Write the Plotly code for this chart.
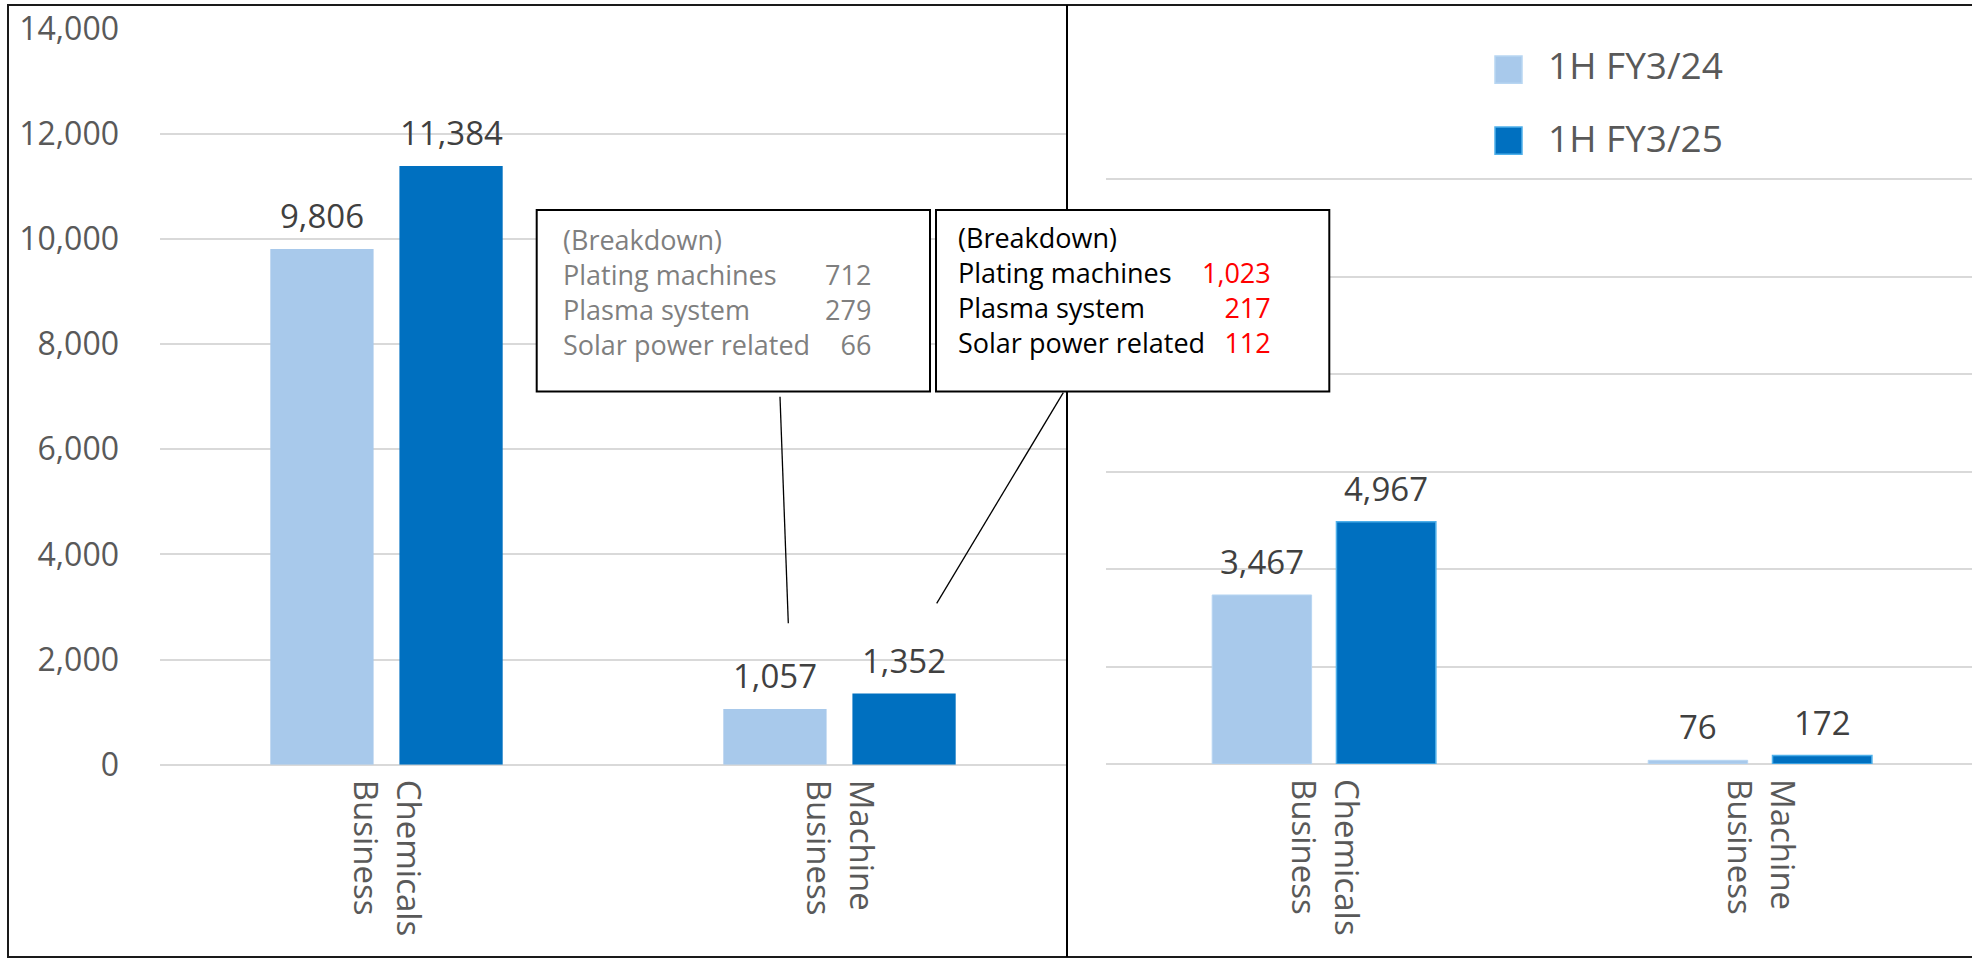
import plotly.graph_objects as go

# ---- data ----
categories = ["Chemicals<br>Business", "Machine<br>Business"]
series_names = ["1H FY3/24", "1H FY3/25"]

# net sales by segment (left panel)
sales_fy24 = [9806, 1057]
sales_fy25 = [11384, 1352]

# operating income by segment (right panel)
income_fy24 = [3467, 76]
income_fy25 = [4967, 172]

# machine business breakdown
breakdown_items = ["Plating machines", "Plasma system", "Solar power related"]
breakdown_fy24 = [712, 279, 66]
breakdown_fy25 = [1023, 217, 112]

y_ticks = list(range(0, 14001, 2000))

# ---- styling ----
W, H = 1972, 958
LIGHT = "#a8c9eb"
DARK = "#0070c0"
GRID = "#d9d9d9"
FONT = "Open Sans, Noto Sans, sans-serif"
BARGAP = 0.43
BARGROUPGAP = 0.2


def px(x):
    return x / W


def py(y):
    return 1 - y / H


fig = go.Figure()

bar_common = dict(showlegend=False, hoverinfo="skip", cliponaxis=False)

fig.add_trace(go.Bar(x=categories, y=sales_fy24, name=series_names[0],
                     marker=dict(color=LIGHT, line=dict(width=0)),
                     xaxis="x", yaxis="y", **bar_common))
fig.add_trace(go.Bar(x=categories, y=sales_fy25, name=series_names[1],
                     marker=dict(color=DARK, line=dict(width=0)),
                     xaxis="x", yaxis="y", **bar_common))
fig.add_trace(go.Bar(x=categories, y=income_fy24, name=series_names[0],
                     marker=dict(color=LIGHT, line=dict(width=1, color="#b8d6f2")),
                     xaxis="x2", yaxis="y2", **bar_common))
fig.add_trace(go.Bar(x=categories, y=income_fy25, name=series_names[1],
                     marker=dict(color=DARK, line=dict(width=1.5, color="#4fb0ea")),
                     xaxis="x2", yaxis="y2", **bar_common))

xaxis_common = dict(
    type="category",
    tickangle=90,
    tickfont=dict(size=33, color="#595959", family=FONT),
    ticklabelstandoff=14,
    showgrid=False,
    showline=False,
    ticks="",
    automargin=False,
    fixedrange=True,
)
yaxis_common = dict(
    range=[0, 14000],
    tickvals=y_ticks,
    tickformat=",",
    showgrid=True,
    gridcolor=GRID,
    gridwidth=1.5,
    zeroline=True,
    zerolinecolor=GRID,
    zerolinewidth=1.5,
    showline=False,
    ticks="",
    automargin=False,
    fixedrange=True,
)

fig.update_layout(
    width=W,
    height=H,
    margin=dict(l=0, r=0, t=0, b=0, pad=0, autoexpand=False),
    paper_bgcolor="white",
    plot_bgcolor="white",
    barmode="group",
    bargap=BARGAP,
    bargroupgap=BARGROUPGAP,
    font=dict(family=FONT, color="#595959"),
    xaxis=dict(domain=[px(160), px(1066)], anchor="y", range=[-0.5, 1.5], **xaxis_common),
    yaxis=dict(domain=[py(764.7), py(28.3)], anchor="x",
               tickfont=dict(size=32, color="#595959", family=FONT),
               ticklabelstandoff=40, **yaxis_common),
    xaxis2=dict(domain=[px(1106), 1.0], anchor="y2", range=[-0.5, 1.486], **xaxis_common),
    yaxis2=dict(domain=[py(764), py(81.5)], anchor="x2", showticklabels=False, **yaxis_common),
)

shapes = []
# outer frame and panel divider
shapes.append(dict(type="rect", xref="paper", yref="paper",
                   x0=px(8), x1=px(2000), y0=py(957), y1=py(5),
                   line=dict(color="#1a1a1a", width=2), fillcolor="rgba(0,0,0,0)"))
shapes.append(dict(type="line", xref="paper", yref="paper",
                   x0=px(1067), x1=px(1067), y0=py(957), y1=py(5),
                   line=dict(color="#000000", width=2)))

# breakdown boxes
boxes = [(536.7, 930.0), (936.0, 1329.3)]
for x0, x1 in boxes:
    shapes.append(dict(type="rect", xref="paper", yref="paper",
                       x0=px(x0), x1=px(x1), y0=py(391.5), y1=py(210),
                       line=dict(color="#000000", width=2), fillcolor="white"))

# callout leaders
shapes.append(dict(type="line", xref="paper", yref="paper",
                   x0=px(780), y0=py(396.7), x1=px(788.3), y1=py(623.3),
                   line=dict(color="#000000", width=1.3)))
shapes.append(dict(type="line", xref="paper", yref="paper",
                   x0=px(1063.3), y0=py(392.7), x1=px(936.7), y1=py(603.3),
                   line=dict(color="#000000", width=1.3)))

# legend panel
shapes.append(dict(type="rect", xref="paper", yref="paper",
                   x0=px(1527), x1=px(1914), y0=py(170), y1=py(40),
                   line=dict(width=0), fillcolor="white"))
legend_rows = [(56, 83.3, LIGHT, "#b8d6f2"), (127, 154.3, DARK, "#4fb0ea")]
for y0, y1, fill, edge in legend_rows:
    shapes.append(dict(type="rect", xref="paper", yref="paper",
                       x0=px(1495), x1=px(1522), y0=py(y1), y1=py(y0),
                       line=dict(color=edge, width=1.5), fillcolor=fill))

annotations = []
for name, (y0, y1, _, _), dy in zip(series_names, legend_rows, [5, 3]):
    annotations.append(dict(xref="paper", yref="paper", x=px(1546), y=py((y0 + y1) / 2 - dy),
                            xanchor="left", yanchor="middle", showarrow=False,
                            text=name, font=dict(size=37, color="#595959", family=FONT)))

# value labels above each bar, centred on the grouped bar positions
half_offset = (1 - BARGAP) / 4
panels = [("x", "y", sales_fy24, sales_fy25), ("x2", "y2", income_fy24, income_fy25)]
for xr, yr, s24, s25 in panels:
    for i in range(len(categories)):
        for val, sign in ((s24[i], -1), (s25[i], 1)):
            annotations.append(dict(xref=xr, yref=yr, x=i + sign * half_offset, y=val,
                                    xanchor="center", yanchor="bottom", yshift=9,
                                    showarrow=False, text=f"{val:,}",
                                    font=dict(size=33, color="#404040", family=FONT)))

# breakdown text: a label column and a right-aligned value column per box
box_text = [
    (560.7, 873.3, breakdown_fy24, "#7f7f7f", "#7f7f7f", 292.0),
    (956.0, 1273.3, breakdown_fy25, "#000000", "#ff0000", 289.5),
]
fs = 27
for x_left, x_right, values, label_color, value_color, y_mid in box_text:
    label_text = "<br>".join(["(Breakdown)"] + breakdown_items)
    value_text = "<br>".join([" "] + [f"{v:,}" for v in values])
    annotations.append(dict(xref="paper", yref="paper", x=px(x_left), y=py(y_mid),
                            xanchor="left", yanchor="middle", align="left", showarrow=False,
                            text=label_text, font=dict(size=fs, color=label_color, family=FONT)))
    annotations.append(dict(xref="paper", yref="paper", x=px(x_right), y=py(y_mid),
                            xanchor="right", yanchor="middle", align="right", showarrow=False,
                            text=value_text, font=dict(size=fs, color=value_color, family=FONT)))

fig.update_layout(shapes=shapes, annotations=annotations)

fig.write_html("out.html")
